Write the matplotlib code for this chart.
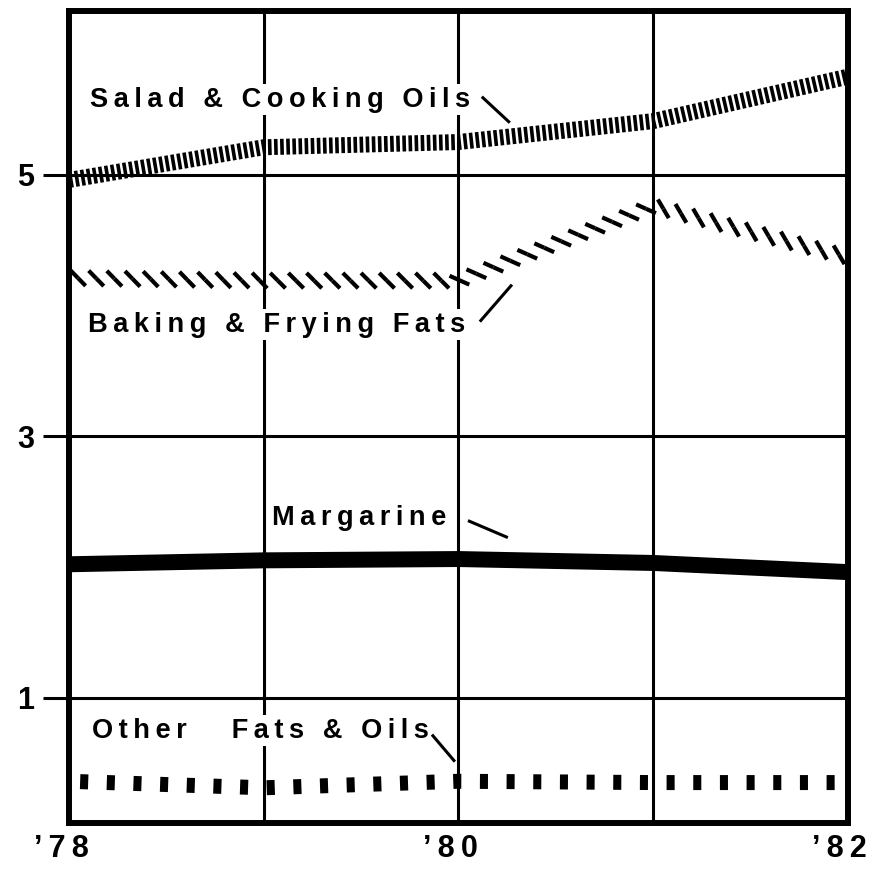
import matplotlib
matplotlib.use("Agg")
import matplotlib.pyplot as plt
import matplotlib.transforms as mtransforms
from matplotlib import patheffects

# data
years = [78, 79, 80, 81, 82]
year_labels = ["\u201978", "", "\u201980", "", "\u201982"]
y_ticks = [1, 3, 5]
salad_oils = [4.96, 5.21, 5.25, 5.41, 5.75]
baking_fats = [4.21, 4.19, 4.19, 4.76, 4.37]
margarine = [2.02, 2.05, 2.06, 2.03, 1.96]
other_fats = [0.36, 0.31, 0.36, 0.35, 0.35]

plt.rcParams['lines.scale_dashes'] = False
FONT = ['Liberation Sans', 'DejaVu Sans']


def spaced(s):
    # wide letter spacing like the old typeset labels
    return '\u2009'.join(s)


fig = plt.figure(figsize=(8.76, 8.71), dpi=100)
ax = fig.add_axes([0.0788, 0.055, 0.889, 0.932])

# series
ax.plot(years, salad_oils, color='black', lw=11.5, dashes=(2.6, 1.8),
        solid_capstyle='butt', dash_capstyle='butt', zorder=4)
ax.plot(years, baking_fats, color='black', lw=3.0, solid_capstyle='butt', zorder=4,
        path_effects=[patheffects.TickedStroke(spacing=13, angle=-45, length=0.6),
                      patheffects.TickedStroke(spacing=13, angle=135, length=0.6)])
ax.plot(years, margarine, color='black', lw=11.5, solid_capstyle='butt', zorder=4)
ax.plot(years, other_fats, color='black', lw=10.8, linestyle=(11.2, (5.8, 13.4)),
        dash_capstyle='butt', zorder=4)

# labels with leader lines
labels = [
    ("Salad & Cooking Oils", 78.11, 5.52, (80.12, 80.264), (5.597, 5.398)),
    ("Baking & Frying Fats", 78.098, 3.80, (80.11, 80.275), (3.876, 4.159)),
    ("Margarine", 79.042, 2.323, (80.049, 80.254), (2.354, 2.224)),
    ("Other   Fats & Oils", 78.118, 0.694, (79.864, 79.982), (0.717, 0.51)),
]
for txt, tx, ty, lx, ly in labels:
    ax.text(tx, ty, spaced(txt), family=FONT, fontsize=19.6, fontweight='bold',
            ha='left', va='baseline', zorder=3,
            bbox=dict(facecolor='white', edgecolor='none', pad=2))
    ax.plot(lx, ly, color='black', lw=2.2, solid_capstyle='butt', zorder=4)

# axes styling
ax.set_xlim(78, 82)
ax.set_ylim(0.04, 6.25)
ax.set_xticks(years)
ax.set_xticklabels([spaced(l) for l in year_labels], family=FONT, fontsize=22,
                   fontweight='bold')
ax.set_yticks(y_ticks)
ax.set_yticklabels([str(v) for v in y_ticks], family=FONT, fontsize=22,
                   fontweight='bold')
ax.tick_params(axis='x', length=0, pad=8)
ax.tick_params(axis='y', length=19, width=2.2, pad=6, direction='out')
# digits sit on the tick, the apostrophe hangs to the left
shift = mtransforms.ScaledTranslation(-8 / 100, 0, fig.dpi_scale_trans)
for lab in ax.get_xticklabels():
    lab.set_transform(lab.get_transform() + shift)
ax.set_axisbelow(True)
ax.grid(True, color='black', lw=2.2)
for s in ax.spines.values():
    s.set_linewidth(4.3)

plt.savefig('out.png', dpi=100)
